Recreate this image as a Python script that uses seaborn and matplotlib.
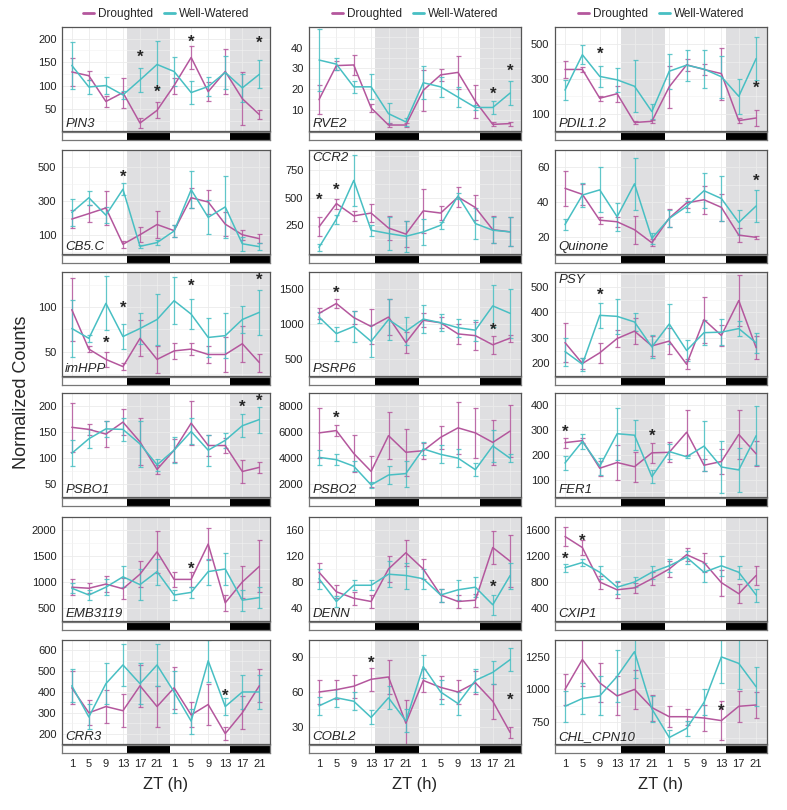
import pandas as pd
import seaborn as sns
import matplotlib.pyplot as plt
from matplotlib.lines import Line2D

# gene panels, read row by row (3 per row)
GENES = ["PIN3", "RVE2", "PDIL1.2", "CB5.C", "CCR2", "Quinone",
         "imHPP", "PSRP6", "PSY", "PSBO1", "PSBO2", "FER1",
         "EMB3119", "DENN", "CXIP1", "CRR3", "COBL2", "CHL_CPN10"]

ZT = [1, 5, 9, 13, 17, 21, 1, 5, 9, 13, 17, 21]
HOURS = [zt + 24 * (i // 6) for i, zt in enumerate(ZT)]
DARK = [(14, 24), (38, 48)]

DROUGHT_MEAN = [
    [129, 121, 66, 85, 20, 47, 100, 160, 87, 130, 72, 38],
    [14.8, 31.3, 31.6, 10.8, 2.5, 2.5, 19.3, 26.8, 28, 14, 2.8, 3.2],
    [355, 355, 189, 215, 49, 56, 255, 382, 355, 331, 60, 75],
    [195, 227, 260, 47, 103, 163, 127, 320, 295, 165, 103, 80],
    [235, 446, 335, 360, 225, 170, 380, 360, 505, 410, 210, 190],
    [47.9, 44.4, 29.5, 28.6, 24, 16.5, 30.7, 39.5, 41.3, 36.9, 20.9, 19.6],
    [97, 53, 41.5, 33.5, 65, 41.5, 51, 53, 47, 47, 59, 38],
    [1153, 1296, 1093, 964, 1100, 732, 1054, 1018, 857, 832, 700, 796],
    [281, 199, 241, 297, 326, 268, 287, 196, 371, 309, 446, 261],
    [159, 155, 146, 169, 131, 78, 115, 167, 124, 124, 74, 82],
    [5930, 6110, 4350, 2970, 5720, 4440, 4560, 5590, 6320, 5930, 5200, 6070],
    [250, 258, 147, 170, 153, 209, 211, 292, 159, 174, 283, 205],
    [900, 880, 960, 870, 1150, 1580, 1050, 1050, 1730, 600, 1000, 1300],
    [95, 65, 55, 50, 100, 125, 100, 60, 50, 52, 133, 112],
    [1500, 1330, 800, 680, 710, 850, 1000, 1220, 1100, 790, 620, 900],
    [420, 300, 330, 310, 430, 330, 420, 290, 340, 200, 300, 430],
    [60, 62, 65, 71, 73, 33, 70, 64, 60, 68, 52, 25],
    [1000, 1230, 1050, 950, 1000, 860, 790, 790, 780, 760, 870, 880],
]
DROUGHT_ERR = [
    [30, 10, 12, 32, 10, 17, 17, 25, 20, 47, 57, 10],
    [7, 2, 5, 2, 1, 1, 10, 3, 8, 8, 1, 1],
    [51, 15, 15, 45, 8, 10, 120, 35, 30, 150, 15, 45],
    [55, 50, 100, 20, 45, 80, 35, 60, 70, 70, 30, 25],
    [85, 45, 45, 85, 110, 120, 200, 60, 90, 110, 120, 130],
    [10, 6, 2, 3, 8, 2, 5, 3, 8, 8, 4, 1],
    [35, 3, 8, 4, 20, 15, 9, 7, 10, 20, 20, 10],
    [80, 60, 100, 250, 260, 150, 100, 80, 150, 200, 130, 50],
    [75, 20, 40, 35, 50, 40, 50, 20, 90, 40, 100, 45],
    [47, 10, 25, 25, 45, 8, 22, 42, 20, 15, 22, 10],
    [1900, 400, 1400, 1200, 1800, 1800, 600, 900, 2000, 1900, 1700, 2000],
    [20, 10, 30, 70, 60, 40, 40, 90, 25, 50, 100, 50],
    [150, 100, 150, 200, 250, 400, 150, 150, 300, 150, 300, 500],
    [15, 10, 10, 10, 20, 20, 15, 10, 10, 10, 25, 40],
    [150, 120, 100, 120, 80, 100, 120, 100, 150, 200, 150, 150],
    [80, 60, 80, 80, 100, 100, 100, 60, 100, 30, 80, 80],
    [10, 8, 10, 10, 15, 20, 10, 10, 10, 10, 15, 5],
    [120, 200, 150, 150, 150, 100, 80, 60, 100, 150, 120, 100],
]
WATER_MEAN = [
    [143, 97, 100, 80, 112, 145, 130, 85, 98, 128, 95, 124],
    [34, 32, 21, 21, 8, 4, 23, 21, 16, 11, 11, 18],
    [236, 440, 315, 295, 258, 112, 345, 380, 357, 313, 200, 418],
    [234, 320, 218, 370, 35, 57, 125, 367, 205, 266, 50, 33],
    [50, 305, 655, 205, 175, 150, 190, 250, 515, 265, 205, 190],
    [27, 44, 47, 31.5, 50.5, 19, 30.5, 37.5, 46.5, 42, 28.2, 37.7],
    [76, 65, 104, 67, 76, 86, 107, 92, 66, 68, 86, 94],
    [1100, 861, 964, 750, 1064, 896, 1071, 1018, 946, 911, 1261, 1154],
    [246, 196, 388, 384, 362, 264, 354, 250, 320, 322, 336, 280],
    [109, 137, 156, 155, 127, 87, 115, 151, 115, 134, 162, 174],
    [4050, 3870, 3370, 1930, 2690, 2800, 4700, 4280, 3990, 3100, 4930, 3980],
    [168, 255, 155, 286, 280, 113, 214, 193, 236, 152, 140, 278],
    [880, 750, 900, 1100, 950, 1200, 750, 800, 1200, 1250, 650, 700],
    [85, 50, 75, 75, 92, 90, 85, 60, 68, 72, 45, 90],
    [1020, 1100, 950, 720, 800, 950, 1050, 1180, 950, 1050, 950, 600],
    [430, 280, 440, 530, 440, 530, 400, 260, 550, 330, 400, 400],
    [48, 55, 52, 38, 55, 35, 82, 60, 50, 70, 77, 88],
    [870, 930, 950, 1100, 1290, 850, 630, 700, 900, 1250, 1200, 1020],
]
WATER_ERR = [
    [50, 15, 18, 8, 25, 50, 30, 25, 20, 35, 30, 30],
    [15, 3, 3, 6, 5, 2, 8, 5, 5, 1, 3, 6],
    [60, 55, 60, 70, 150, 45, 100, 90, 110, 120, 100, 125],
    [80, 40, 45, 35, 10, 15, 35, 110, 100, 180, 40, 20],
    [30, 40, 230, 50, 150, 140, 120, 30, 30, 140, 120, 130],
    [3, 7, 13, 8, 15, 3, 5, 3, 10, 13, 7, 9],
    [32, 4, 30, 14, 17, 28, 26, 17, 22, 25, 15, 25],
    [80, 100, 230, 230, 300, 200, 200, 120, 130, 150, 300, 350],
    [55, 25, 50, 70, 35, 45, 80, 40, 50, 50, 30, 40],
    [25, 18, 15, 22, 45, 12, 25, 25, 30, 15, 22, 25],
    [600, 400, 400, 200, 700, 1000, 500, 700, 700, 500, 1200, 300],
    [30, 30, 35, 105, 60, 25, 30, 5, 100, 105, 90, 120],
    [100, 100, 150, 200, 300, 250, 100, 100, 250, 300, 200, 200],
    [15, 8, 8, 8, 20, 20, 15, 10, 15, 15, 15, 20],
    [60, 60, 100, 100, 80, 100, 100, 100, 150, 150, 100, 100],
    [80, 60, 100, 100, 100, 100, 100, 60, 100, 40, 80, 80],
    [8, 8, 8, 6, 10, 10, 10, 10, 10, 10, 10, 10],
    [120, 120, 150, 200, 200, 100, 60, 60, 100, 200, 200, 150],
]

# significance stars: (time point number, height)
STARS = [
    [(5, 160), (6, 85), (8, 193), (12, 190)],
    [(11, 17.5), (12, 28.4)],
    [(3, 442), (12, 247)],
    [(4, 440)],
    [(1, 475), (2, 565)],
    [(12, 52)],
    [(3, 59), (4, 98), (8, 123), (12, 130)],
    [(2, 1450), (11, 903)],
    [(3, 465)],
    [(11, 197), (12, 210)],
    [(2, 7040)],
    [(1, 293), (6, 276)],
    [(8, 1250)],
    [(11, 72)],
    [(1, 1150), (2, 1420)],
    [(10, 380)],
    [(4, 85), (12, 53)],
    [(10, 830)],
]

Y_TICKS = [
    [50, 100, 150, 200], [10, 20, 30, 40], [100, 300, 500],
    [100, 300, 500], [250, 500, 750], [20, 40, 60],
    [50, 100], [500, 1000, 1500], [200, 300, 400, 500],
    [50, 100, 150, 200], [2000, 4000, 6000, 8000], [100, 200, 300, 400],
    [500, 1000, 1500, 2000], [40, 80, 120, 160], [400, 800, 1200, 1600],
    [200, 300, 400, 500, 600], [30, 60, 90], [750, 1000, 1250],
]
Y_LIMITS = [
    (3, 203), (-0.4, 50), (5, 578),
    (-10, 503), (-10, 930), (11, 67.5),
    (23, 139), (480, 1611), (153, 558),
    (40, 218), (1360, 8600), (31, 422),
    (480, 2130), (25, 170), (330, 1720),
    (150, 640), (18, 100), (580, 1380),
]
LABEL_ON_TOP = ["CCR2", "PSY"]

COLORS = {"Droughted": "#B4579D", "Well-Watered": "#48BFC3"}
XLIM = (-1.3, 47.5)

sns.set_style("white")
plt.rcParams['font.family'] = ['Liberation Sans', 'DejaVu Sans']

W, H = 787, 810
fig = plt.figure(figsize=(W / 100, H / 100), dpi=100)

COL_LEFT = [62, 309, 555]
COL_WIDTH = [208, 212, 212]
ROW_TOP = [27, 150, 272, 393, 517, 640]
PANEL_H = 104
BAR_H = 8


def px_axes(left, top, w, h):
    return fig.add_axes([left / W, 1 - (top + h) / H, w / W, h / H])


for k, gene in enumerate(GENES):
    r, c = divmod(k, 3)
    ax = px_axes(COL_LEFT[c], ROW_TOP[r], COL_WIDTH[c], PANEL_H)

    df = pd.DataFrame({
        'hour': HOURS * 2,
        'count': DROUGHT_MEAN[k] + WATER_MEAN[k],
        'err': DROUGHT_ERR[k] + WATER_ERR[k],
        'treatment': ['Droughted'] * 12 + ['Well-Watered'] * 12,
    })

    for start, end in DARK:
        ax.axvspan(start, end, color='#dfdfe1', lw=0, zorder=0)

    for name, sub in df.groupby('treatment'):
        ax.errorbar(sub['hour'], sub['count'], yerr=sub['err'], fmt='none',
                    ecolor=COLORS[name], elinewidth=0.9, capsize=1.8,
                    capthick=0.9, alpha=0.85, zorder=2)
    sns.lineplot(data=df, x='hour', y='count', hue='treatment',
                 palette=COLORS, ax=ax, legend=False, lw=1.1,
                 errorbar=None, zorder=3)

    for idx, y in STARS[k]:
        ax.text(HOURS[idx - 1], y, '*', ha='center', va='center',
                fontsize=12, fontweight='bold', zorder=4)

    ax.set_xlim(XLIM)
    ax.set_ylim(Y_LIMITS[k])
    ax.set_xticks(HOURS)
    ax.set_xticklabels([])
    ax.set_yticks(Y_TICKS[k])
    step = Y_TICKS[k][1] - Y_TICKS[k][0]
    ax.set_yticks([t - step / 2 for t in Y_TICKS[k]] + [Y_TICKS[k][-1] + step / 2],
                  minor=True)
    ax.set_axisbelow(True)
    ax.grid(True, which='major', color='#ebebeb', lw=0.6)
    ax.grid(True, which='minor', axis='y', color='#f2f2f2', lw=0.4)
    ax.tick_params(axis='x', length=0)
    ax.tick_params(axis='y', which='major', length=2.5, width=0.6,
                   color='#333333', labelsize=8, pad=1.5, labelcolor='#222222')
    ax.tick_params(axis='y', which='minor', length=0)
    ax.set_xlabel('')
    ax.set_ylabel('')
    for sp in ax.spines.values():
        sp.set_color('#555555')
        sp.set_linewidth(0.9)

    if gene in LABEL_ON_TOP:
        ax.text(0.015, 0.98, gene, transform=ax.transAxes, ha='left',
                va='top', fontsize=9.5, style='italic', zorder=5)
    else:
        ax.text(0.015, 0.01, gene, transform=ax.transAxes, ha='left',
                va='bottom', fontsize=9.5, style='italic', zorder=5)

    if r == 0:
        handles = [Line2D([], [], color=COLORS[n], lw=2) for n in COLORS]
        ax.legend(handles, list(COLORS), loc='lower center',
                  bbox_to_anchor=(0.5, 1.0), ncol=2, frameon=False,
                  fontsize=8.5, handlelength=1.0, handletextpad=0.3,
                  columnspacing=0.9, borderaxespad=0.2)

    # light / dark bar under the panel
    bx = px_axes(COL_LEFT[c], ROW_TOP[r] + PANEL_H + 1, COL_WIDTH[c], BAR_H)
    bx.set_xlim(XLIM)
    bx.set_ylim(0, 1)
    for start, end in DARK:
        bx.axvspan(start, end, color='black', lw=0)
    bx.set_yticks([])
    for sp in bx.spines.values():
        sp.set_color('#777777')
        sp.set_linewidth(0.9)
    if r == 5:
        bx.set_xticks(HOURS)
        bx.set_xticklabels(ZT)
        bx.tick_params(axis='x', length=2.5, width=0.6, color='#333333',
                       labelsize=8, pad=2, labelcolor='#222222')
        fig.text((COL_LEFT[c] + COL_WIDTH[c] / 2) / W, 1 - 785 / H, 'ZT (h)',
                 ha='center', va='center', fontsize=12)
    else:
        bx.set_xticks([])

fig.text(22 / W, 1 - 392 / H, 'Normalized Counts', rotation=90,
         ha='center', va='center', fontsize=13)

fig.savefig('out.png', dpi=100)
